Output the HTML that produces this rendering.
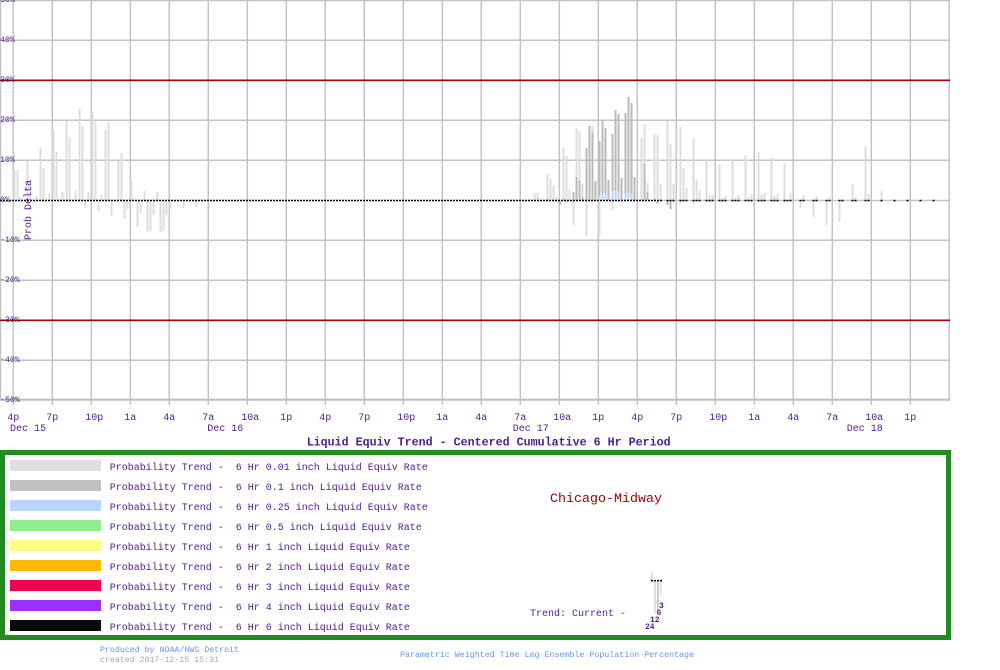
<!DOCTYPE html>
<html><head><meta charset="utf-8"><style>
html,body{margin:0;padding:0;background:#fff;}
svg{display:block;}
text{font-family:"Liberation Mono",monospace;white-space:pre;}
</style></head><body>
<svg width="1000" height="670" viewBox="0 0 1000 670" xmlns="http://www.w3.org/2000/svg">
<rect x="0" y="0" width="1000" height="670" fill="#fff"/>
<!-- grid -->
<g stroke="#c4c4c4" stroke-width="1.5" fill="none">
<line x1="0.5" y1="0" x2="0.5" y2="400"/>
<line x1="13.3" y1="0" x2="13.3" y2="405"/><line x1="52.3" y1="0" x2="52.3" y2="405"/><line x1="91.3" y1="0" x2="91.3" y2="405"/><line x1="130.3" y1="0" x2="130.3" y2="405"/><line x1="169.3" y1="0" x2="169.3" y2="405"/><line x1="208.3" y1="0" x2="208.3" y2="405"/><line x1="247.3" y1="0" x2="247.3" y2="405"/><line x1="286.3" y1="0" x2="286.3" y2="405"/><line x1="325.3" y1="0" x2="325.3" y2="405"/><line x1="364.3" y1="0" x2="364.3" y2="405"/><line x1="403.3" y1="0" x2="403.3" y2="405"/><line x1="442.3" y1="0" x2="442.3" y2="405"/><line x1="481.3" y1="0" x2="481.3" y2="405"/><line x1="520.3" y1="0" x2="520.3" y2="405"/><line x1="559.3" y1="0" x2="559.3" y2="405"/><line x1="598.3" y1="0" x2="598.3" y2="405"/><line x1="637.3" y1="0" x2="637.3" y2="405"/><line x1="676.3" y1="0" x2="676.3" y2="405"/><line x1="715.3" y1="0" x2="715.3" y2="405"/><line x1="754.3" y1="0" x2="754.3" y2="405"/><line x1="793.3" y1="0" x2="793.3" y2="405"/><line x1="832.3" y1="0" x2="832.3" y2="405"/><line x1="871.3" y1="0" x2="871.3" y2="405"/><line x1="910.3" y1="0" x2="910.3" y2="405"/><line x1="949.3" y1="0" x2="949.3" y2="400"/>
<line x1="0" y1="0.5" x2="950" y2="0.5"/>
<line x1="0" y1="40.3" x2="950" y2="40.3"/>
<line x1="0" y1="120.3" x2="950" y2="120.3"/>
<line x1="0" y1="160.3" x2="950" y2="160.3"/>
<line x1="0" y1="200.5" x2="950" y2="200.5"/>
<line x1="0" y1="240.3" x2="950" y2="240.3"/>
<line x1="0" y1="280.3" x2="950" y2="280.3"/>
<line x1="0" y1="360.3" x2="950" y2="360.3"/>
</g>
<line x1="0" y1="399.7" x2="950" y2="399.7" stroke="#c0c0c0" stroke-width="2.2"/>
<g stroke="#a00000" stroke-width="1.6">
<line x1="0" y1="80.3" x2="950" y2="80.3"/>
<line x1="0" y1="320.3" x2="950" y2="320.3"/>
</g>
<!-- bars left -->
<g fill="#dedede">
<rect x="13.5" y="170" width="2" height="30.5"/><rect x="16.5" y="170" width="2" height="30.5"/><rect x="19" y="197" width="2" height="3.5"/><rect x="26.5" y="161" width="2" height="39.5"/><rect x="29.5" y="180" width="2" height="20.5"/><rect x="35.5" y="196" width="2" height="4.5"/><rect x="39.5" y="148" width="2" height="52.5"/><rect x="42.5" y="168" width="2" height="32.5"/><rect x="45.5" y="199" width="2" height="1.5"/><rect x="48.5" y="194" width="2" height="6.5"/><rect x="52.5" y="130" width="2" height="70.5"/><rect x="55.5" y="152" width="2" height="48.5"/><rect x="61.5" y="192" width="2" height="8.5"/><rect x="65.5" y="121" width="2" height="79.5"/><rect x="68.5" y="138" width="2" height="62.5"/><rect x="74.5" y="190" width="2" height="10.5"/><rect x="78.5" y="109" width="2" height="91.5"/><rect x="81.5" y="126" width="2" height="74.5"/><rect x="84.5" y="200.5" width="2" height="6.5"/><rect x="87.5" y="192" width="2" height="8.5"/><rect x="91.5" y="112" width="2" height="88.5"/><rect x="94.5" y="122" width="2" height="78.5"/><rect x="97.5" y="200.5" width="2" height="10.5"/><rect x="100.5" y="195" width="2" height="5.5"/><rect x="104.5" y="130" width="2" height="70.5"/><rect x="107.5" y="122" width="2" height="78.5"/><rect x="110.5" y="200.5" width="2" height="15.5"/><rect x="117.5" y="161" width="2" height="39.5"/><rect x="120.5" y="153" width="2" height="47.5"/><rect x="123.5" y="200.5" width="2" height="18.5"/><rect x="126.5" y="200.5" width="2" height="8.5"/><rect x="130.5" y="180" width="2" height="20.5"/><rect x="136.5" y="200.5" width="2" height="26.5"/><rect x="139.5" y="200.5" width="2" height="12.5"/><rect x="143.5" y="191" width="2" height="9.5"/><rect x="146.5" y="200.5" width="2" height="31.5"/><rect x="149.5" y="200.5" width="2" height="30.5"/><rect x="152.5" y="200.5" width="2" height="14.5"/><rect x="156.5" y="192" width="2" height="8.5"/><rect x="159.5" y="200.5" width="2" height="31.5"/><rect x="162.5" y="200.5" width="2" height="30.5"/><rect x="165.5" y="200.5" width="2" height="14.5"/><rect x="169.5" y="200.5" width="2" height="8.5"/><rect x="182.5" y="200.5" width="2" height="7.5"/><rect x="195.5" y="200.5" width="2" height="6.5"/>
</g>
<!-- bars right: light -->
<g fill="#dedede">
<rect x="533.5" y="193" width="2" height="7.5"/><rect x="536.5" y="193" width="2" height="7.5"/><rect x="546.5" y="174" width="2" height="26.5"/><rect x="549.5" y="179" width="2" height="21.5"/><rect x="552.5" y="186" width="2" height="14.5"/><rect x="555.5" y="197" width="2" height="3.5"/><rect x="562.5" y="148" width="2" height="52.5"/><rect x="565.5" y="156" width="2" height="44.5"/><rect x="568.5" y="190" width="2" height="10.5"/><rect x="572.5" y="200.5" width="2" height="24.5"/><rect x="575.5" y="128" width="2" height="72.5"/><rect x="578.5" y="131" width="2" height="69.5"/><rect x="581.5" y="184" width="2" height="16.5"/><rect x="585.5" y="200.5" width="2" height="35.5"/><rect x="591.5" y="126" width="2" height="74.5"/><rect x="598.5" y="200.5" width="2" height="35.5"/><rect x="611.5" y="200.5" width="2" height="9.5"/><rect x="640.5" y="138" width="2" height="62.5"/><rect x="643.5" y="124" width="2" height="76.5"/><rect x="646.5" y="183" width="2" height="17.5"/><rect x="653.5" y="134" width="2" height="66.5"/><rect x="656.5" y="135" width="2" height="65.5"/><rect x="659.5" y="184" width="2" height="16.5"/><rect x="666.5" y="121" width="2" height="79.5"/><rect x="669.5" y="144" width="2" height="56.5"/><rect x="672.5" y="184" width="2" height="16.5"/><rect x="679.5" y="127" width="2" height="73.5"/><rect x="679.5" y="200.5" width="2" height="2.5"/><rect x="682.5" y="168" width="2" height="32.5"/><rect x="685.5" y="188" width="2" height="12.5"/><rect x="692.5" y="139" width="2" height="61.5"/><rect x="692.5" y="200.5" width="2" height="3.5"/><rect x="695.5" y="180" width="2" height="20.5"/><rect x="698.5" y="191" width="2" height="9.5"/><rect x="705.5" y="159" width="2" height="41.5"/><rect x="708.5" y="195" width="2" height="5.5"/><rect x="711.5" y="195" width="2" height="5.5"/><rect x="718.5" y="164" width="2" height="36.5"/><rect x="721.5" y="198" width="2" height="2.5"/><rect x="724.5" y="196" width="2" height="4.5"/><rect x="731.5" y="159" width="2" height="41.5"/><rect x="734.5" y="198" width="2" height="2.5"/><rect x="737.5" y="195" width="2" height="5.5"/><rect x="744.5" y="155" width="2" height="45.5"/><rect x="747.5" y="197" width="2" height="3.5"/><rect x="750.5" y="194" width="2" height="6.5"/><rect x="757.5" y="152" width="2" height="48.5"/><rect x="760.5" y="195" width="2" height="5.5"/><rect x="763.5" y="193" width="2" height="7.5"/><rect x="770.5" y="158" width="2" height="42.5"/><rect x="773.5" y="196" width="2" height="4.5"/><rect x="776.5" y="194" width="2" height="6.5"/><rect x="783.5" y="163" width="2" height="37.5"/><rect x="789.5" y="194" width="2" height="6.5"/><rect x="799.5" y="200.5" width="2" height="7.5"/><rect x="802.5" y="195" width="2" height="5.5"/><rect x="812.5" y="200.5" width="2" height="16.5"/><rect x="815.5" y="196" width="2" height="4.5"/><rect x="825.5" y="200.5" width="2" height="24.5"/><rect x="828.5" y="197" width="2" height="3.5"/><rect x="838.5" y="200.5" width="2" height="21.5"/><rect x="841.5" y="199" width="2" height="1.5"/><rect x="851.5" y="184" width="2" height="16.5"/><rect x="854.5" y="197" width="2" height="3.5"/><rect x="864.5" y="147" width="2" height="53.5"/><rect x="867.5" y="194" width="2" height="6.5"/><rect x="880.5" y="191" width="2" height="9.5"/>
</g>
<!-- bars right: dark -->
<g fill="#bababa">
<rect x="546.5" y="199" width="2" height="1.5"/><rect x="559" y="200.5" width="2" height="4.5"/><rect x="562.5" y="199" width="2" height="1.5"/><rect x="565.5" y="200.5" width="2" height="2"/><rect x="572.5" y="192" width="2" height="8.5"/><rect x="575.5" y="177" width="2" height="23.5"/><rect x="578.5" y="181" width="2" height="19.5"/><rect x="581.5" y="197" width="2" height="3.5"/><rect x="585.5" y="148" width="2" height="52.5"/><rect x="588.5" y="126" width="2" height="74.5"/><rect x="591.5" y="133" width="2" height="67.5"/><rect x="594.5" y="181" width="2" height="19.5"/><rect x="598.5" y="141" width="2" height="59.5"/><rect x="601.5" y="121" width="2" height="79.5"/><rect x="604.5" y="128" width="2" height="72.5"/><rect x="607.5" y="180" width="2" height="20.5"/><rect x="611.5" y="134" width="2" height="66.5"/><rect x="614.5" y="110" width="2" height="90.5"/><rect x="617.5" y="114" width="2" height="86.5"/><rect x="620.5" y="178" width="2" height="22.5"/><rect x="624.5" y="113" width="2" height="87.5"/><rect x="627.5" y="97" width="2" height="103.5"/><rect x="630.5" y="103" width="2" height="97.5"/><rect x="633.5" y="177" width="2" height="23.5"/><rect x="640.5" y="199" width="2" height="1.5"/><rect x="643.5" y="164" width="2" height="36.5"/><rect x="646.5" y="192" width="2" height="8.5"/><rect x="653.5" y="199" width="2" height="1.5"/><rect x="656.5" y="200.5" width="2" height="3.5"/><rect x="666.5" y="200.5" width="2" height="4.5"/><rect x="669.5" y="200.5" width="2" height="8.5"/>
</g>
<!-- bars right: blue -->
<g fill="#b9d5f7">
<rect x="572.5" y="200.5" width="2" height="3"/><rect x="598.5" y="195" width="2" height="5.5"/><rect x="601.5" y="193" width="2" height="7.5"/><rect x="604.5" y="193" width="2" height="7.5"/><rect x="611.5" y="191" width="2" height="9.5"/><rect x="614.5" y="191" width="2" height="9.5"/><rect x="617.5" y="191" width="2" height="9.5"/><rect x="624.5" y="193" width="2" height="7.5"/><rect x="627.5" y="193" width="2" height="7.5"/><rect x="630.5" y="193" width="2" height="7.5"/>
</g>
<!-- zero dotted line -->
<line x1="0" y1="200.5" x2="662" y2="200.5" stroke="#fff" stroke-width="1.5"/>
<line x1="0" y1="200.5" x2="662" y2="200.5" stroke="#000" stroke-width="1.5" stroke-dasharray="2 1"/>
<g fill="#000">
<rect x="666.5" y="199.8" width="2" height="1.5"/><rect x="669.5" y="199.8" width="2" height="1.5"/><rect x="672.5" y="199.8" width="2" height="1.5"/><rect x="679.5" y="199.8" width="2" height="1.5"/><rect x="682.5" y="199.8" width="2" height="1.5"/><rect x="685.5" y="199.8" width="2" height="1.5"/><rect x="692.5" y="199.8" width="2" height="1.5"/><rect x="695.5" y="199.8" width="2" height="1.5"/><rect x="698.5" y="199.8" width="2" height="1.5"/><rect x="705.5" y="199.8" width="2" height="1.5"/><rect x="708.5" y="199.8" width="2" height="1.5"/><rect x="711.5" y="199.8" width="2" height="1.5"/><rect x="718.5" y="199.8" width="2" height="1.5"/><rect x="721.5" y="199.8" width="2" height="1.5"/><rect x="724.5" y="199.8" width="2" height="1.5"/><rect x="731.5" y="199.8" width="2" height="1.5"/><rect x="734.5" y="199.8" width="2" height="1.5"/><rect x="737.5" y="199.8" width="2" height="1.5"/><rect x="744.5" y="199.8" width="2" height="1.5"/><rect x="747.5" y="199.8" width="2" height="1.5"/><rect x="750.5" y="199.8" width="2" height="1.5"/><rect x="757.5" y="199.8" width="2" height="1.5"/><rect x="760.5" y="199.8" width="2" height="1.5"/><rect x="763.5" y="199.8" width="2" height="1.5"/><rect x="770.5" y="199.8" width="2" height="1.5"/><rect x="773.5" y="199.8" width="2" height="1.5"/><rect x="776.5" y="199.8" width="2" height="1.5"/><rect x="783.5" y="199.8" width="2" height="1.5"/><rect x="786.5" y="199.8" width="2" height="1.5"/><rect x="789.5" y="199.8" width="2" height="1.5"/><rect x="799.5" y="199.8" width="2" height="1.5"/><rect x="802.5" y="199.8" width="2" height="1.5"/><rect x="812.5" y="199.8" width="2" height="1.5"/><rect x="815.5" y="199.8" width="2" height="1.5"/><rect x="825.5" y="199.8" width="2" height="1.5"/><rect x="828.5" y="199.8" width="2" height="1.5"/><rect x="838.5" y="199.8" width="2" height="1.5"/><rect x="841.5" y="199.8" width="2" height="1.5"/><rect x="851.5" y="199.8" width="2" height="1.5"/><rect x="854.5" y="199.8" width="2" height="1.5"/><rect x="864.5" y="199.8" width="2" height="1.5"/><rect x="867.5" y="199.8" width="2" height="1.5"/><rect x="880.5" y="199.8" width="2" height="1.5"/><rect x="893.5" y="199.8" width="2" height="1.5"/><rect x="906.5" y="199.8" width="2" height="1.5"/><rect x="919.5" y="199.8" width="2" height="1.5"/><rect x="932.5" y="199.8" width="2" height="1.5"/>
</g>
<!-- y labels -->
<g fill="#4f1c8f" font-size="8.3">
<text x="0" y="2">50%</text>
<text x="0" y="42">40%</text>
<text x="0" y="82">30%</text>
<text x="0" y="122">20%</text>
<text x="0" y="162">10%</text>
<text x="0" y="202">0%</text>
<text x="0" y="242">-10%</text>
<text x="0" y="282">-20%</text>
<text x="0" y="322">-30%</text>
<text x="0" y="362">-40%</text>
<text x="0" y="402">-50%</text>
</g>
<text transform="translate(31,240) rotate(-90)" fill="#4f1c8f" font-size="10" textLength="60" lengthAdjust="spacingAndGlyphs">Prob Delta</text>
<!-- x labels -->
<g fill="#4f1c8f" font-size="10">
<text x="7.3" y="420">4p</text><text x="46.3" y="420">7p</text><text x="85.3" y="420">10p</text><text x="124.3" y="420">1a</text><text x="163.3" y="420">4a</text><text x="202.3" y="420">7a</text><text x="241.3" y="420">10a</text><text x="280.3" y="420">1p</text><text x="319.3" y="420">4p</text><text x="358.3" y="420">7p</text><text x="397.3" y="420">10p</text><text x="436.3" y="420">1a</text><text x="475.3" y="420">4a</text><text x="514.3" y="420">7a</text><text x="553.3" y="420">10a</text><text x="592.3" y="420">1p</text><text x="631.3" y="420">4p</text><text x="670.3" y="420">7p</text><text x="709.3" y="420">10p</text><text x="748.3" y="420">1a</text><text x="787.3" y="420">4a</text><text x="826.3" y="420">7a</text><text x="865.3" y="420">10a</text><text x="904.3" y="420">1p</text>
<text x="10" y="431">Dec 15</text>
<text x="207.3" y="431">Dec 16</text>
<text x="512.7" y="431">Dec 17</text>
<text x="846.7" y="431">Dec 18</text>
</g>
<text x="306.7" y="445.5" fill="#4f1c8f" font-size="11.7" font-weight="bold" textLength="364" lengthAdjust="spacingAndGlyphs">Liquid Equiv Trend - Centered Cumulative 6 Hr Period</text>
<!-- legend box -->
<rect x="2.5" y="452.5" width="946" height="185" fill="none" stroke="#228b22" stroke-width="5"/>
<rect x="10" y="460" width="91" height="11" fill="#e0e0e0"/>
<rect x="10" y="480" width="91" height="11" fill="#c0c0c0"/>
<rect x="10" y="500" width="91" height="11" fill="#b9d5f7"/>
<rect x="10" y="520" width="91" height="11" fill="#90ee90"/>
<rect x="10" y="540" width="91" height="11" fill="#ffff88"/>
<rect x="10" y="560" width="91" height="11" fill="#ffb900"/>
<rect x="10" y="580" width="91" height="11" fill="#f00050"/>
<rect x="10" y="600" width="91" height="11" fill="#9b30ff"/>
<rect x="10" y="620" width="91" height="11" fill="#0a0a0a"/>
<g fill="#4f1c8f" font-size="10">
<text x="109.7" y="470">Probability Trend -&#160; 6 Hr 0.01 inch Liquid Equiv Rate</text>
<text x="109.7" y="490">Probability Trend -&#160; 6 Hr 0.1 inch Liquid Equiv Rate</text>
<text x="109.7" y="510">Probability Trend -&#160; 6 Hr 0.25 inch Liquid Equiv Rate</text>
<text x="109.7" y="530">Probability Trend -&#160; 6 Hr 0.5 inch Liquid Equiv Rate</text>
<text x="109.7" y="550">Probability Trend -&#160; 6 Hr 1 inch Liquid Equiv Rate</text>
<text x="109.7" y="570">Probability Trend -&#160; 6 Hr 2 inch Liquid Equiv Rate</text>
<text x="109.7" y="590">Probability Trend -&#160; 6 Hr 3 inch Liquid Equiv Rate</text>
<text x="109.7" y="610">Probability Trend -&#160; 6 Hr 4 inch Liquid Equiv Rate</text>
<text x="109.7" y="630">Probability Trend -&#160; 6 Hr 6 inch Liquid Equiv Rate</text>
</g>
<text x="550" y="502" fill="#a00000" font-size="13.3" textLength="112" lengthAdjust="spacingAndGlyphs">Chicago-Midway</text>
<text x="530" y="616" fill="#4f1c8f" font-size="10">Trend: Current -</text>
<!-- trend icon -->
<rect x="651" y="572" width="1.8" height="8" fill="#e0e0e0"/>
<rect x="654" y="581.5" width="1.8" height="31.5" fill="#d8d8d8"/>
<rect x="657" y="581.5" width="1.8" height="28.5" fill="#c8c8c8"/>
<rect x="660" y="581.5" width="1.8" height="13.5" fill="#e0e0e0"/>
<g fill="#000">
<rect x="651" y="579.8" width="2" height="1.6"/><rect x="654" y="579.8" width="2" height="1.6"/><rect x="657" y="579.8" width="2" height="1.6"/><rect x="660" y="579.8" width="2" height="1.6"/>
</g>
<g fill="#4f1c8f" font-size="8" font-weight="bold">
<text x="659" y="608">3</text>
<text x="656.5" y="615">6</text>
<text x="650" y="622">12</text>
<text x="645" y="629">24</text>
</g>
<!-- footer -->
<text x="100" y="652" fill="#6495ed" font-size="8.3" textLength="139" lengthAdjust="spacingAndGlyphs">Produced by NOAA/NWS Detroit</text>
<text x="100" y="662" fill="#a8a8a8" font-size="8.3" textLength="119" lengthAdjust="spacingAndGlyphs">created 2017-12-15 15:31</text>
<text x="400" y="657" fill="#6495ed" font-size="8.3" textLength="294" lengthAdjust="spacingAndGlyphs">Parametric Weighted Time Lag Ensemble Population Percentage</text>
</svg>
</body></html>
